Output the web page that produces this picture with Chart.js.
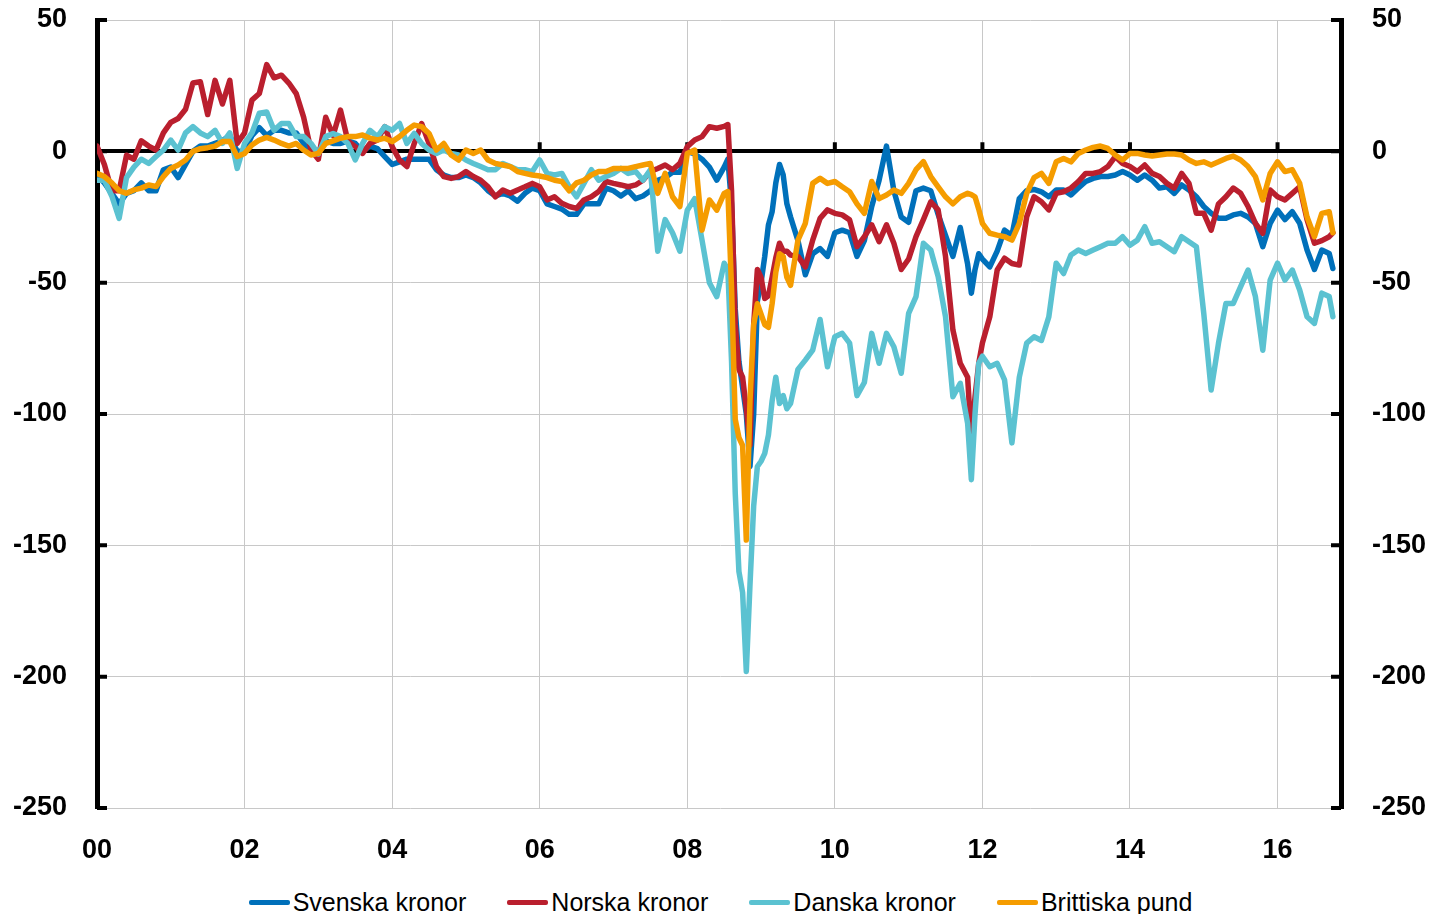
<!DOCTYPE html>
<html>
<head>
<meta charset="utf-8">
<title>Valutor</title>
<script src="https://cdn.jsdelivr.net/npm/chart.js@4/dist/chart.umd.min.js"></script>
<style>
  html, body { margin: 0; padding: 0; background: #fff; overflow: hidden; }
  #legend {
    height: 52px; display: flex; justify-content: center; align-items: center; gap: 41px;
    font: 25px "Liberation Sans", Arial, sans-serif; color: #000;
  }
  #legend .item { display: flex; align-items: center; }
  #legend .item i { display: inline-block; width: 41px; height: 5px; margin-right: 3px; border-radius: 2px; }
</style>
</head>
<body>
<canvas id="chart" width="1441" height="876"></canvas>
<div id="legend"></div>
<script>
// time in years since 2000 (denser around the 2008 and 2011 dips)
const years = [
  0.0, 0.1, 0.2, 0.3, 0.4, 0.5, 0.6, 0.7, 0.8, 0.9,
  1.0, 1.1, 1.2, 1.3, 1.4, 1.5, 1.6, 1.7, 1.8, 1.9,
  2.0, 2.1, 2.2, 2.3, 2.4, 2.5, 2.6, 2.7, 2.8, 2.9,
  3.0, 3.1, 3.2, 3.3, 3.4, 3.5, 3.6, 3.7, 3.8, 3.9,
  4.0, 4.1, 4.2, 4.3, 4.4, 4.5, 4.6, 4.7, 4.8, 4.9,
  5.0, 5.1, 5.2, 5.3, 5.4, 5.5, 5.6, 5.7, 5.8, 5.9,
  6.0, 6.1, 6.2, 6.3, 6.4, 6.5, 6.6, 6.7, 6.8, 6.9,
  7.0, 7.1, 7.2, 7.3, 7.4, 7.5, 7.6, 7.7, 7.8, 7.9,
  8.0, 8.1, 8.2, 8.3, 8.4, 8.5,
  8.55, 8.6, 8.65, 8.7, 8.75, 8.8, 8.85, 8.9, 8.95, 9.0, 9.05, 9.1, 9.15, 9.2, 9.25, 9.3, 9.35, 9.4,
  9.5, 9.6, 9.7, 9.8, 9.9,
  10.0, 10.1, 10.2, 10.3, 10.4, 10.5, 10.6, 10.7, 10.8, 10.9,
  11.0, 11.1, 11.2, 11.3, 11.4, 11.5, 11.6, 11.7, 11.8,
  11.85, 11.9, 11.95,
  12.0, 12.1, 12.2, 12.3, 12.4, 12.5, 12.6, 12.7, 12.8, 12.9,
  13.0, 13.1, 13.2, 13.3, 13.4, 13.5, 13.6, 13.7, 13.8, 13.9,
  14.0, 14.1, 14.2, 14.3, 14.4, 14.5, 14.6, 14.7, 14.8, 14.9,
  15.0, 15.1, 15.2, 15.3, 15.4, 15.5, 15.6, 15.7, 15.8, 15.9,
  16.0, 16.1, 16.2, 16.3, 16.4, 16.5, 16.6, 16.7,
  16.75
];

const svenska = [
  -9, -12, -16, -20, -16, -15, -12, -15, -15, -7,
  -6, -10, -5, 0, 2, 2, 3, 4, 6, 0,
  0, 6, 9, 6, 8, 8, 7, 7, 3, -1,
  0, 4, 3, 3, 4, 3, 0, 2, 1, -2,
  -5, -4, -3, -3, -3, -3, -7, -9, -10, -10,
  -9, -10, -12, -15, -17, -16, -17, -19, -16, -14,
  -15, -20, -21, -22, -24, -24, -20, -20, -20, -14,
  -15, -17, -15, -18, -17, -15, -11, -10, -8, -8,
  0, -1, -3, -6, -11, -6,
  -3, -20, -60, -80, -90, -100, -120, -100, -57, -50, -40, -28, -23, -12, -5, -9, -20, -25,
  -34, -47, -39, -37, -40,
  -31, -30, -31, -40, -34, -21, -11, 2, -15, -25,
  -27, -15, -14, -15, -24, -32, -40, -29, -43,
  -54, -45, -39,
  -41, -44, -38, -30, -32, -18, -15, -14.5, -15.4, -17.3,
  -14.7, -14.7, -16.6, -14, -11.5, -10.3, -9.6, -9.6, -9, -7.7,
  -9, -11, -9, -11, -14, -13.5, -16, -12.8, -14.7, -17.3,
  -21, -23.6, -25.5, -25.5, -24.2, -23.6, -25, -27.4, -36.3, -27.4,
  -22.4, -26, -23, -27.4, -37.6, -45, -37.6, -38.9,
  -44.6
];

const norska = [
  2, -5, -15, -15, -1.5, -3, 4, 2, 0.5, 7,
  11, 12.5, 16, 26, 26.5, 14, 27, 18, 27, 3,
  7, 19.5, 22, 33, 28, 29, 26, 22, 13, 0.5,
  -3, 13, 6, 15.7, 4, 1.8, -0.8, 3, 4.3, 9.4,
  1.8, -3.3, -5.8, 3, 10.6, 3, -5.8, -9.6, -10.3, -9.6,
  -7.7, -9.6, -11, -13.5, -17.3, -14.7, -16, -14.7, -13.5, -12.2,
  -13.5, -18.5, -17.3, -19.8, -21, -21.7, -18.5, -17.3, -15.3, -11.5,
  -12.2, -12.8, -13.5, -12.8, -11, -7.7, -6.5, -5.2, -7, -4.6,
  1.8, 4.3, 5.6, 9.4, 8.8, 9.5,
  10.2, -15, -66, -83, -86, -98, -112, -66, -45, -48, -56, -55, -48, -40.5, -35, -38, -38, -39.5,
  -40, -44, -33.8, -25.5, -22.3,
  -23.6, -24.2, -26.1, -36.3, -32.5, -28, -34.4, -28, -35, -45,
  -41, -32.5, -26, -19.2, -22.3, -40, -68, -80.7, -86,
  -110, -93.4, -80.7,
  -73, -63, -45.2, -40.7, -42.7, -43.3, -24.9, -17.3, -19.2, -22.3,
  -16, -15.4, -14, -11.5, -8.4, -8.4, -7.7, -5.8, -2, -4.6,
  -5.8, -7.7, -5.2, -8.4, -9.6, -12.2, -14, -8.4, -12.2, -23.6,
  -23.6, -30, -20, -17.3, -14, -16, -21, -27.4, -31.2, -14.7,
  -17.3, -18.5, -16, -13.5, -26, -35, -34, -32.5,
  -31
];

const danska = [
  -11, -11, -17, -25.5, -10, -6, -3, -4.6, -2, 0.5,
  4.3, 0.5, 7, 9.4, 7, 5.6, 8, 3, 7, -6.5,
  3, 7, 14.5, 15, 8, 10.6, 10.6, 5.6, 5.6, 3,
  -1, 5.6, 6.8, 5.6, 3, -3.3, 3, 8, 5.6, 9.4,
  8, 10.6, 3, 6.8, 3, 0.5, -0.8, 0.5, -0.8, -1.4,
  -3.3, -4.6, -5.8, -7, -7, -4.6, -5.8, -7, -7, -7.7,
  -3.3, -8.4, -9, -8.4, -13.5, -17.3, -12.2, -7, -11, -9.6,
  -8.4, -6.5, -8.4, -7.7, -11, -7, -38, -26, -31, -38,
  -22.4, -18, -33.8, -50, -55.3, -42.6,
  -45, -80, -130, -160, -168, -198, -165, -135, -120, -118, -115, -108, -95, -86, -96, -93, -98, -96,
  -83, -79.5, -75.7, -64, -82,
  -70.6, -69.3, -73, -93, -88, -69.3, -80.7, -69.3, -74.4, -84.5,
  -61.7, -55.3, -35, -37.6, -47.7, -63, -93.4, -88.3, -103.6,
  -125, -100, -80.7,
  -78, -82, -80.7, -87, -111, -86, -73, -70.6, -72, -63,
  -42.6, -46.5, -39.5, -37.6, -38.9, -37.6, -36.3, -35, -35, -32.5,
  -35.7, -33.8, -28.7, -35, -34.4, -36.3, -38.2, -32.5, -34.4, -36.3,
  -61.7, -90.9, -73, -57.9, -57.9, -51.5, -45.2, -55.3, -75.7, -49,
  -42.6, -49, -45.2, -52.8, -63, -65.5, -54, -55.3,
  -63
];

const brittiska = [
  -8.4, -9.6, -12, -15, -16, -14.7, -14, -12.8, -13.4, -9.6,
  -6.5, -5.2, -3.3, 0, 1, 1.4, 2, 3.7, 3.7, -2,
  -0.8, 2.4, 4.3, 5.3, 4.3, 3, 2, 3, 0.5, -1.4,
  -0.8, 3, 4, 5, 5.6, 5.6, 6.2, 5, 4.3, 5,
  3.7, 5.6, 8, 10, 9.4, 6.8, 0.5, 3, -1.4, -3.3,
  0.5, -0.8, 0.5, -3.3, -4.6, -5.2, -5.8, -7.7, -8.4, -9,
  -9.4, -10, -11, -11.5, -15, -12, -11, -9, -7.7, -7.7,
  -6.5, -6.5, -6.5, -5.8, -5.2, -4.6, -16, -8.4, -17.3, -21,
  -0.8, 0.5, -30, -18.5, -22.4, -16,
  -15.3, -52, -102, -109, -112, -148, -95, -66, -58, -62, -66, -67, -58, -46, -39, -40, -48, -51,
  -33.8, -27.4, -12.2, -10.3, -12.2,
  -11.5, -13.5, -15.4, -20, -23.6, -11.5, -18, -16.6, -14.7, -16,
  -12.2, -7, -3.9, -9.6, -13.5, -17.3, -20, -17.3, -16,
  -16.5, -17.3, -22,
  -27.4, -31.2, -31.9, -32.5, -33.8, -27.4, -16, -10, -8.4, -12.2,
  -4, -2.7, -4, -0.8, 0.5, 1.5, 2, 1.1, -1.4, -3.3,
  -0.8, -0.8, -1.4, -1.8, -1.4, -1, -1, -1.4, -3.3, -4.6,
  -4, -5.2, -4, -2.7, -1.8, -3.3, -5.8, -9.6, -18.5, -8.4,
  -4, -7.7, -7, -12.2, -25, -32.5, -23.6, -23,
  -31
];

const seriesNames = ["Svenska kronor", "Norska kronor", "Danska kronor", "Brittiska pund"];
const seriesColors = ["#0070BA", "#BA1F2E", "#5BC2D1", "#F59C00"];
const seriesValues = [svenska, norska, danska, brittiska];

const xTickValues = [0, 2, 4, 6, 8, 10, 12, 14, 16];
const xTickLabels = ["00", "02", "04", "06", "08", "10", "12", "14", "16"];
const yMin = -250, yMax = 50, yStep = 50;
const xMin = 0, xMax = 16.86;

const tickFont = { family: "'Liberation Sans', Arial, sans-serif", size: 27, weight: "bold" };

// short black tick marks pointing into the plot (y axes) and up from the zero line (x axis)
const innerTicks = {
  id: "innerTicks",
  beforeDatasetsDraw(chart) {
    const { ctx, chartArea, scales } = chart;
    const y0 = scales.y.getPixelForValue(0);
    ctx.save();
    ctx.strokeStyle = "#000";
    ctx.lineWidth = 4;
    ctx.beginPath();
    scales.y.ticks.forEach(t => {
      const py = scales.y.getPixelForValue(t.value);
      ctx.moveTo(chartArea.left, py);
      ctx.lineTo(chartArea.left + 10, py);
      ctx.moveTo(chartArea.right, py);
      ctx.lineTo(chartArea.right - 10, py);
    });
    scales.x.ticks.forEach(t => {
      if (t.value === 0) return;
      const px = scales.x.getPixelForValue(t.value);
      ctx.moveTo(px, y0);
      ctx.lineTo(px, y0 - 9);
    });
    ctx.stroke();
    ctx.restore();
  }
};

new Chart(document.getElementById("chart"), {
  type: "line",
  data: {
    datasets: seriesNames.map((name, i) => ({
      label: name,
      data: seriesValues[i].map((v, k) => ({ x: years[k], y: v })),
      borderColor: seriesColors[i],
      backgroundColor: seriesColors[i],
      borderWidth: 5.5,
      borderJoinStyle: "round",
      borderCapStyle: "round",
      pointRadius: 0,
      tension: 0,
      fill: false,
      order: seriesNames.length - i
    }))
  },
  options: {
    responsive: false,
    animation: false,
    layout: { padding: { top: 20, right: 0, bottom: 0, left: 0 } },
    plugins: { legend: { display: false }, tooltip: { enabled: false } },
    scales: {
      x: {
        type: "linear",
        min: xMin,
        max: xMax,
        afterBuildTicks: s => { s.ticks = xTickValues.map(v => ({ value: v })); },
        afterFit: s => { s.height = 68; s.paddingLeft = 0; s.paddingRight = 0; },
        ticks: {
          padding: 26,
          maxRotation: 0,
          autoSkip: false,
          color: "#000",
          font: tickFont,
          callback: v => xTickLabels[xTickValues.indexOf(v)]
        },
        grid: { color: "#C8C8C8", lineWidth: 1, drawTicks: false },
        border: { display: false }
      },
      y: {
        position: "left",
        min: yMin,
        max: yMax,
        afterFit: s => { s.width = 97; s.paddingTop = 0; s.paddingBottom = 0; },
        ticks: { stepSize: yStep, padding: 30, color: "#000", font: tickFont },
        grid: {
          color: c => c.tick.value === 0 ? "#000" : "#C8C8C8",
          lineWidth: c => c.tick.value === 0 ? 4 : 1,
          drawTicks: false
        },
        border: { color: "#000", width: 5 }
      },
      y2: {
        position: "right",
        min: yMin,
        max: yMax,
        afterFit: s => { s.width = 100; s.paddingTop = 0; s.paddingBottom = 0; },
        ticks: { stepSize: yStep, padding: 31, color: "#000", font: tickFont },
        grid: { display: false, drawTicks: false },
        border: { color: "#000", width: 5 }
      }
    }
  },
  plugins: [innerTicks]
});

// legend below the chart
const legend = document.getElementById("legend");
seriesNames.forEach((name, i) => {
  const item = document.createElement("span");
  item.className = "item";
  item.innerHTML = '<i style="background:' + seriesColors[i] + '"></i>' + name;
  legend.appendChild(item);
});
</script>
</body>
</html>
